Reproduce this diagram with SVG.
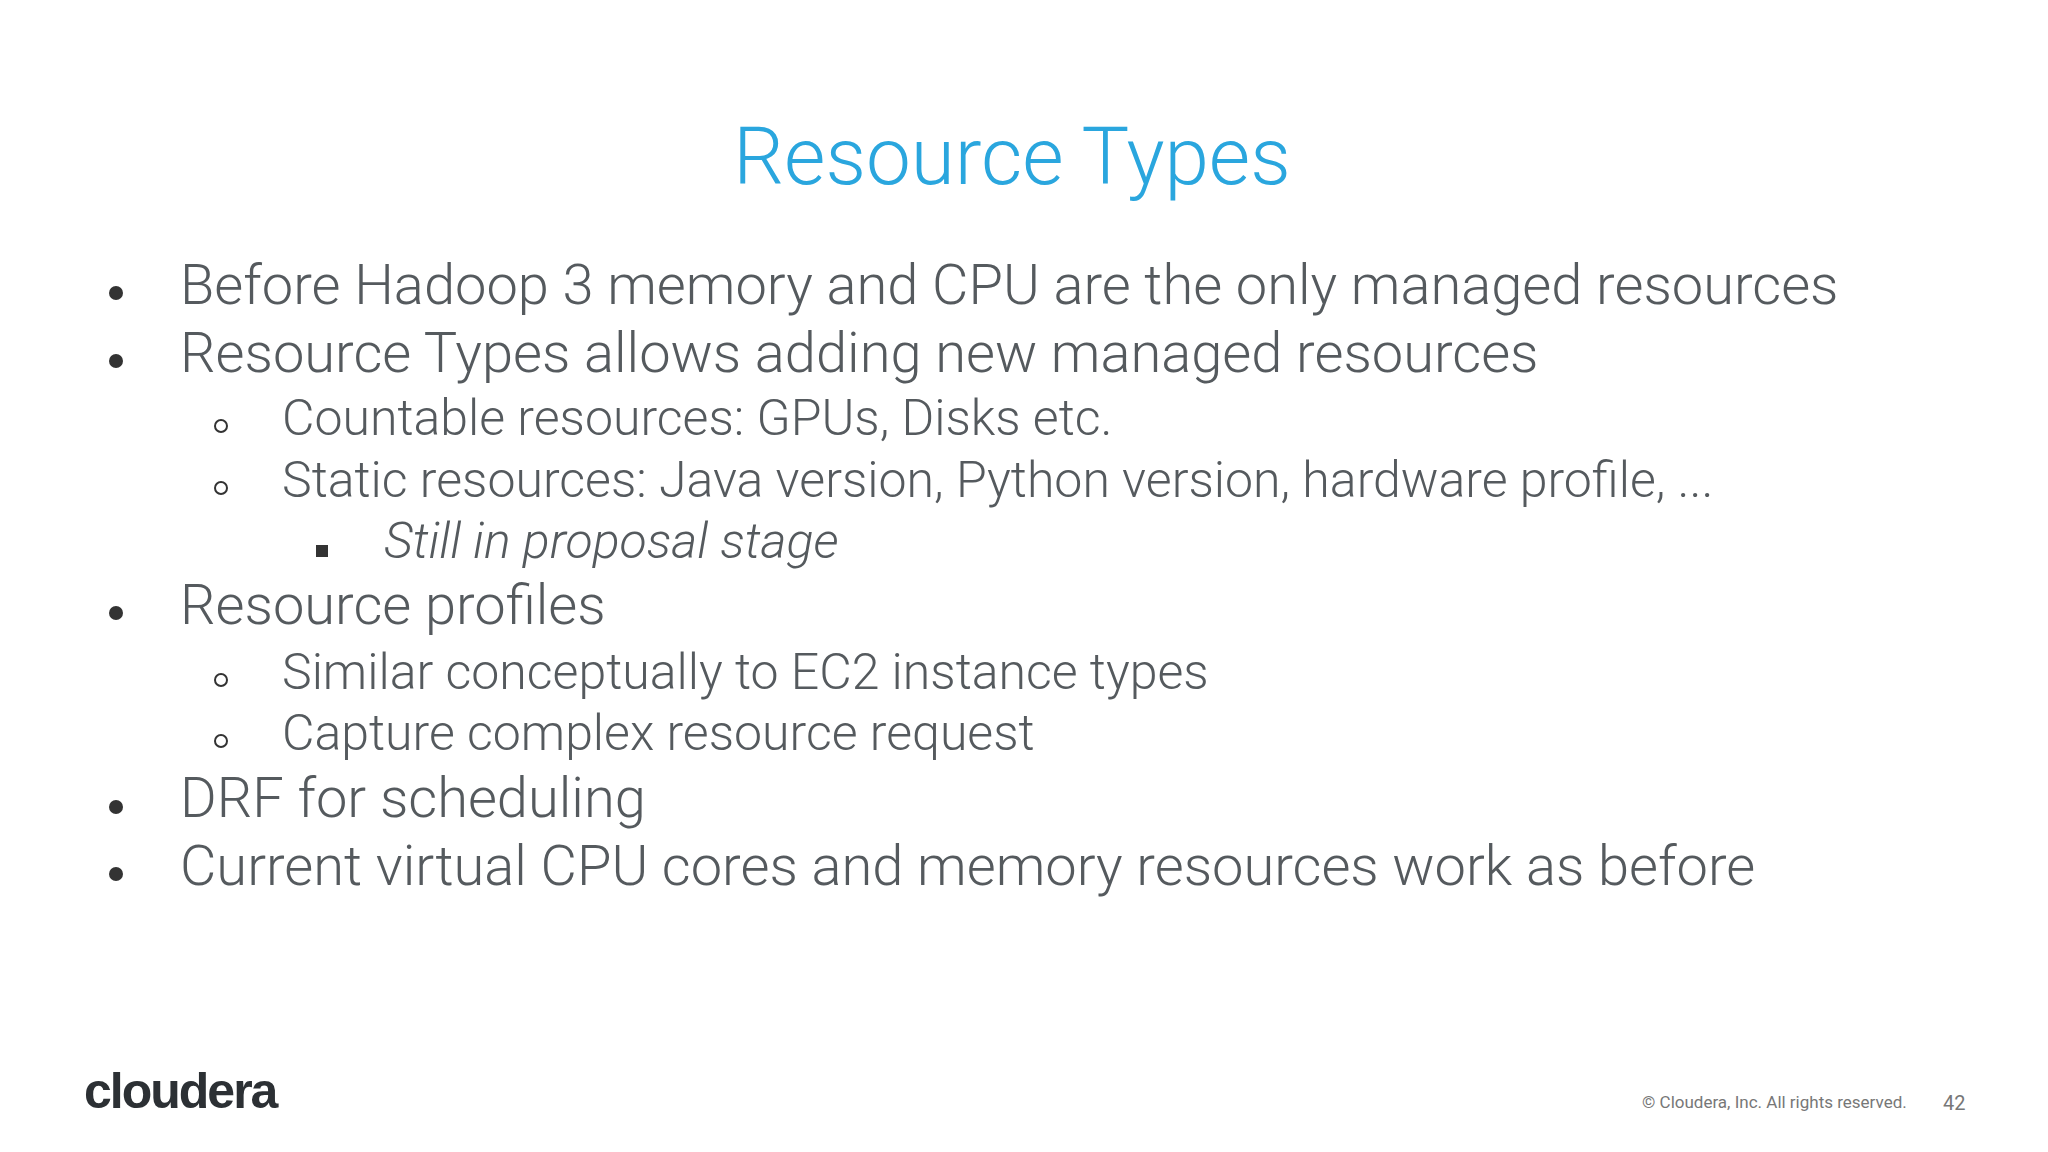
<svg xmlns="http://www.w3.org/2000/svg" width="2048" height="1152" viewBox="0 0 2048 1152">
<style>
.t{font-family:Roboto,"Liberation Sans",sans-serif;font-weight:300;fill:#555a5e}
.l1{font-size:56px}
.l2{font-size:50px}
</style>
<rect width="2048" height="1152" fill="#fff"/>
<text x="1012" y="184" text-anchor="middle" font-family="Roboto,'Liberation Sans',sans-serif" font-weight="300" font-size="80" fill="#2aa6de">Resource Types</text>
<g id="bullets">
<g fill="#333">
<circle cx="116" cy="293" r="7"/><circle cx="116" cy="361" r="7"/><circle cx="116" cy="613" r="7"/><circle cx="116" cy="807" r="7"/><circle cx="116" cy="874" r="7"/>
</g>
<g fill="none" stroke="#333" stroke-width="2">
<circle cx="221" cy="426" r="6"/><circle cx="221" cy="488" r="6"/><circle cx="221" cy="680" r="6"/><circle cx="221" cy="741" r="6"/>
</g>
<rect x="316" y="545" width="12" height="12" fill="#333"/>
</g>
<g id="text">
<text class="t l1" x="180" y="304">Before Hadoop 3 memory and CPU are the only managed resources</text>
<text class="t l1" x="180" y="372">Resource Types allows adding new managed resources</text>
<text class="t l2" x="282" y="435">Countable resources: GPUs, Disks etc.</text>
<text class="t l2" x="282" y="497">Static resources: Java version, Python version, hardware profile, ...</text>
<text class="t l2" x="384" y="558" font-style="italic">Still in proposal stage</text>
<text class="t l1" x="180" y="624">Resource profiles</text>
<text class="t l2" x="282" y="689">Similar conceptually to EC2 instance types</text>
<text class="t l2" x="282" y="750">Capture complex resource request</text>
<text class="t l1" x="180" y="817">DRF for scheduling</text>
<text class="t l1" x="180" y="885">Current virtual CPU cores and memory resources work as before</text>
</g>
<g id="footer">
<text x="84" y="1108" font-family="'Liberation Sans',sans-serif" font-weight="bold" font-size="50" fill="#2c3034" letter-spacing="-2">cloudera</text>
<text x="1642" y="1108" font-family="Roboto,'Liberation Sans',sans-serif" font-size="17" fill="#777">© Cloudera, Inc. All rights reserved.</text>
<text x="1943" y="1110" font-family="Roboto,'Liberation Sans',sans-serif" font-size="20" fill="#777">42</text>
</g>
</svg>
